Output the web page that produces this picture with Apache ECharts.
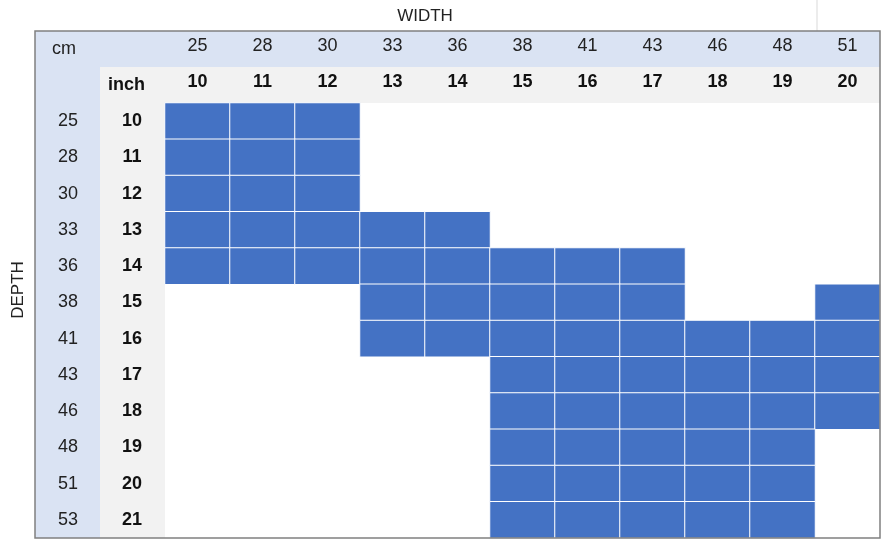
<!DOCTYPE html>
<html><head><meta charset="utf-8">
<script src="https://cdn.jsdelivr.net/npm/echarts@6/dist/echarts.min.js"></script>
<style>html,body{margin:0;padding:0;background:#fff}#c{width:888px;height:545px}</style>
</head><body><div id="c"></div>
<script>
const widthInch = ['10','11','12','13','14','15','16','17','18','19','20'];
const widthCm = ['25','28','30','33','36','38','41','43','46','48','51'];
const depthInch = ['10','11','12','13','14','15','16','17','18','19','20','21'];
const depthCm = ['25','28','30','33','36','38','41','43','46','48','51','53'];
// available widths (inch) per depth row
const available = [
  [10,11,12],[10,11,12],[10,11,12],
  [10,11,12,13,14],
  [10,11,12,13,14,15,16,17],
  [13,14,15,16,17,20],
  [13,14,15,16,17,18,19,20],
  [15,16,17,18,19,20],[15,16,17,18,19,20],
  [15,16,17,18,19],[15,16,17,18,19],[15,16,17,18,19]
];
const data = [];
available.forEach((ws, r) => ws.forEach(w => data.push([widthInch.indexOf(String(w)), r, 1])));

const F = 'Liberation Sans, Arial, sans-serif';
const chart = echarts.init(document.getElementById('c'));
chart.setOption({
  animation: false,
  grid: {left: 165, right: 8, top: 103, bottom: 7},
  graphic: [
    {type:'rect', shape:{x:35,y:31,width:845,height:36}, style:{fill:'#dae3f3'}, z:-10},
    {type:'rect', shape:{x:35,y:67,width:65,height:471}, style:{fill:'#dae3f3'}, z:-10},
    {type:'rect', shape:{x:100,y:67,width:780,height:36}, style:{fill:'#f2f2f2'}, z:-10},
    {type:'rect', shape:{x:100,y:103,width:65,height:435}, style:{fill:'#f2f2f2'}, z:-10},
    {type:'rect', shape:{x:35,y:31,width:845,height:507}, style:{fill:'none',stroke:'#808080',lineWidth:1.5}, z:10},
    {type:'line', shape:{x1:817,y1:0,x2:817,y2:31}, style:{stroke:'#d9d9d9',lineWidth:1}},
    {type:'text', left:52, top:40, style:{text:'cm', font:'18px '+F, fill:'#222'}},
    {type:'text', left:108, top:76, style:{text:'inch', font:'bold 18px '+F, fill:'#111'}},
    {type:'text', x:425, y:16, style:{text:'WIDTH', font:'17px '+F, fill:'#222', align:'center', verticalAlign:'middle'}},
    {type:'text', x:18, y:290, rotation:Math.PI/2, style:{text:'DEPTH', font:'17px '+F, fill:'#222', align:'center', verticalAlign:'middle'}}
  ],
  xAxis: [
    {type:'category', data: widthInch, position:'top', axisLine:{show:false}, axisTick:{show:false}, splitLine:{show:false},
     axisLabel:{margin:12, fontSize:18, fontWeight:'bold', color:'#111', fontFamily:F}},
    {type:'category', data: widthCm, position:'top', offset:36, axisLine:{show:false}, axisTick:{show:false},
     axisLabel:{margin:12, fontSize:18, color:'#222', fontFamily:F}}
  ],
  yAxis: [
    {type:'category', data: depthInch, inverse:true, axisLine:{show:false}, axisTick:{show:false},
     axisLabel:{margin:33, align:'center', fontSize:18, fontWeight:'bold', color:'#111', fontFamily:F}},
    {type:'category', data: depthCm, inverse:true, position:'left', offset:65, axisLine:{show:false}, axisTick:{show:false},
     axisLabel:{margin:32, align:'center', fontSize:18, color:'#222', fontFamily:F}}
  ],
  visualMap: {show:false, min:0, max:1, inRange:{color:['#4472c4','#4472c4']}},
  series: [{type:'heatmap', data, xAxisIndex:0, yAxisIndex:0,
    itemStyle:{borderColor:'#ffffff', borderWidth:1}, emphasis:{disabled:true}}]
});
</script></body></html>
